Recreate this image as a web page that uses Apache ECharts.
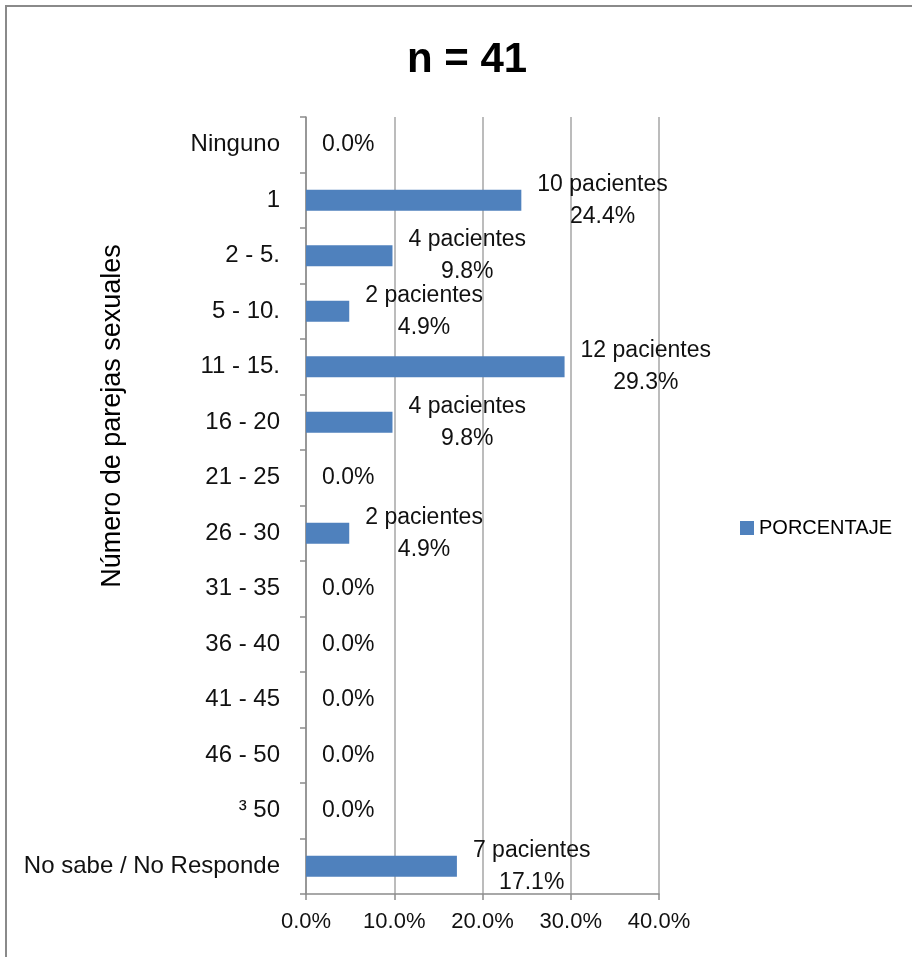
<!DOCTYPE html>
<html>
<head>
<meta charset="utf-8">
<script src="https://cdn.jsdelivr.net/npm/echarts@6/dist/echarts.min.js"></script>
<style>
  html, body { margin: 0; padding: 0; background: #fff; }
  #chart { width: 912px; height: 957px; }
</style>
</head>
<body>
<div id="chart"></div>
<script>
const categories = ['Ninguno', '1', '2 - 5.', '5 - 10.', '11 - 15.', '16 - 20', '21 - 25', '26 - 30',
    '31 - 35', '36 - 40', '41 - 45', '46 - 50', '³ 50', 'No sabe / No Responde'];
const percentages = [0, 24.4, 9.8, 4.9, 29.3, 9.8, 0, 4.9, 0, 0, 0, 0, 0, 17.1];
const patients = [0, 10, 4, 2, 12, 4, 0, 2, 0, 0, 0, 0, 0, 7];
const xTicks = [0, 10, 20, 30, 40];

const FONT = '"Liberation Sans", Arial, sans-serif';
const chart = echarts.init(document.getElementById('chart'));

chart.setOption({
    backgroundColor: '#fff',
    animation: false,
    title: {
        text: 'n = 41',
        left: 462,
        top: 34,
        textAlign: 'center',
        textStyle: { fontFamily: FONT, fontSize: 42, fontWeight: 'bold', color: '#000' }
    },
    graphic: [{
        type: 'rect',
        shape: { x: 6, y: 6, width: 1000, height: 1000 },
        style: { fill: 'none', stroke: '#8a8a8a', lineWidth: 2 }
    }, {
        // axis title sits above the plot's middle in the original
        type: 'text',
        x: 113,
        y: 416,
        rotation: Math.PI / 2,
        style: {
            text: 'Número de parejas sexuales',
            fontFamily: FONT, fontSize: 27, fill: '#000',
            align: 'center', verticalAlign: 'middle'
        }
    }],
    legend: {
        left: 735,
        top: 513,
        itemWidth: 14,
        itemHeight: 14,
        textStyle: { fontFamily: FONT, fontSize: 20, color: '#000' },
        data: [{ name: 'PORCENTAJE', icon: 'rect' }]
    },
    grid: { left: 306, right: 253, top: 117, bottom: 63 },
    xAxis: {
        type: 'value',
        min: xTicks[0],
        max: xTicks[xTicks.length - 1],
        interval: 10,
        axisLine: { show: true, lineStyle: { color: '#8c8c8c', width: 1.5 } },
        axisTick: { show: true, length: 6, lineStyle: { color: '#8c8c8c', width: 1.5 } },
        splitLine: { show: true, lineStyle: { color: '#a6a6a6', width: 1.5 } },
        axisLabel: {
            margin: 17,
            fontFamily: FONT, fontSize: 22, color: '#111',
            formatter: v => v.toFixed(1) + '%'
        }
    },
    yAxis: {
        type: 'category',
        inverse: true,
        data: categories,
        axisLine: { show: true, lineStyle: { color: '#8c8c8c', width: 1.5 } },
        axisTick: { show: true, length: 6, inside: false, lineStyle: { color: '#8c8c8c', width: 1.5 } },
        axisLabel: { margin: 26, fontFamily: FONT, fontSize: 24, color: '#111' }
    },
    series: [{
        name: 'PORCENTAJE',
        type: 'bar',
        data: percentages,
        barWidth: 21,
        itemStyle: { color: '#4f81bd' },
        label: {
            show: true,
            position: 'right',
            distance: 16,
            formatter: p => {
                const pct = p.value.toFixed(1) + '%';
                const n = patients[p.dataIndex];
                return n > 0 ? '{a|' + n + ' pacientes}\n{a|' + pct + '}' : '{a|' + pct + '}';
            },
            rich: {
                a: { align: 'center', fontFamily: FONT, fontSize: 23, color: '#111', lineHeight: 32 }
            }
        }
    }]
});
</script>
</body>
</html>
